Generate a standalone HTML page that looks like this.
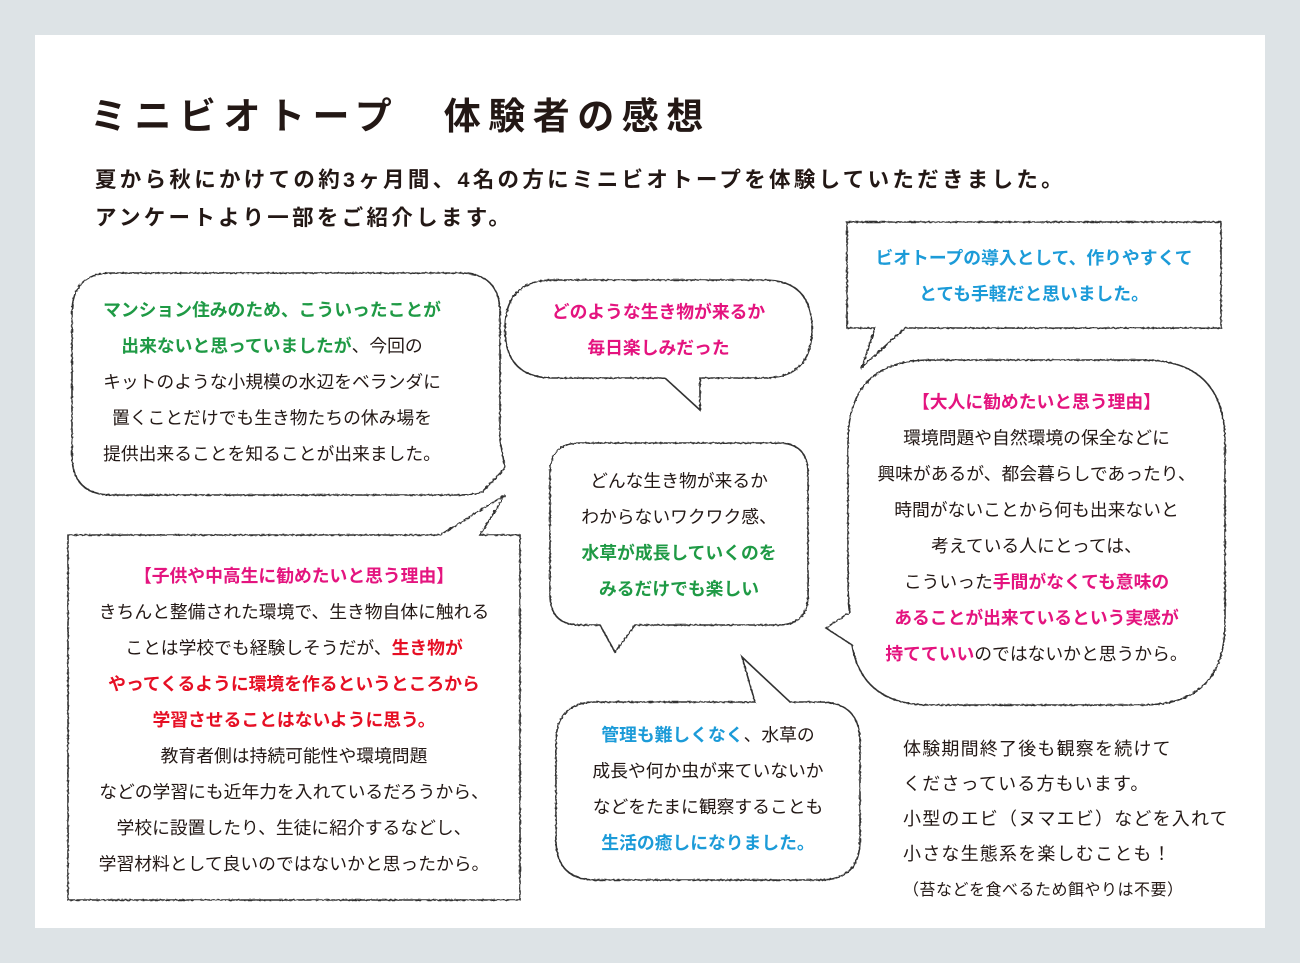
<!DOCTYPE html>
<html><head><meta charset="utf-8"><style>
body{margin:0;width:1300px;height:963px;background:#dde3e6;position:relative;overflow:hidden;font-family:"Liberation Sans","Noto Sans CJK JP",sans-serif;color:#231815}
.card{position:absolute;left:35px;top:35px;width:1230px;height:893px;background:#fff}
svg{position:absolute;left:0;top:0}
.t{position:absolute;text-align:center;font-size:17.8px;line-height:36px;white-space:nowrap}
.g{color:#1f9a45;font-weight:bold}.m{color:#e4147f;font-weight:bold}.b{color:#1c9bd8;font-weight:bold}.r{color:#e60f24;font-weight:bold}
h1{position:absolute;left:90px;top:86px;margin:0;font-size:37px;letter-spacing:7.5px;font-weight:bold}
.sub{position:absolute;left:95px;top:161px;font-size:21.5px;line-height:38px;font-weight:bold;letter-spacing:3.3px}
</style></head><body>
<div class="card"></div>
<svg width="1300" height="963">
<defs><filter id="w"><feTurbulence type="fractalNoise" baseFrequency="0.4" numOctaves="1" seed="3"/><feDisplacementMap in="SourceGraphic" scale="2.5"/></filter></defs>
<g fill="#fff" stroke="#333" stroke-width="1.6" stroke-linejoin="miter" filter="url(#w)">
<path d="M112,273 H460 Q500,273 500,313 V440 L505,468 L482,492 Q472,495 460,495 H112 Q72,495 72,455 V313 Q72,273 112,273 Z"/>
<path d="M68,535 H440 L505,495 L480,535 H520 V900 H68 Z"/>
<path d="M553,280 H764 Q812,280 812,329 Q812,378 764,378 H700 L700,410 L665,378 H553 Q505,378 505,329 Q505,280 553,280Z"/>
<path d="M580,443 H778 Q808,443 808,473 V595 Q808,625 778,625 H635 L615,652 L600,625 H580 Q550,625 550,595 V473 Q550,443 580,443Z"/>
<path d="M596,702 H755 L742,657 L790,702 H820 Q860,702 860,742 V840 Q860,880 820,880 H596 Q556,880 556,840 V742 Q556,702 596,702Z"/>
<path d="M847,222 H1221 V328 H905 L862,367 L875,328 H847Z"/>
<path d="M930,360 H1143 Q1225,360 1225,442 V623 Q1225,705 1143,705 H930 Q862,705 852,645 L826,628 L850,612 Q848,600 848,580 V442 Q848,360 930,360Z"/>
</g></svg>
<h1>ミニビオトープ　体験者の感想</h1>
<div class="sub">夏から秋にかけての約3ヶ月間、4名の方にミニビオトープを体験していただきました。<br>アンケートより一部をご紹介します。</div>

<div class="t" style="left:72px;width:400px;top:292px"><span class="g">マンション住みのため、こういったことが<br>出来ないと思っていましたが</span>、今回の<br>キットのような小規模の水辺をベランダに<br>置くことだけでも生き物たちの休み場を<br>提供出来ることを知ることが出来ました。</div>

<div class="t" style="left:68px;width:452px;top:558px"><span class="m">【子供や中高生に勧めたいと思う理由】</span><br>きちんと整備された環境で、生き物自体に触れる<br>ことは学校でも経験しそうだが、<span class="r">生き物が<br>やってくるように環境を作るというところから<br>学習させることはないように思う。</span><br>教育者側は持続可能性や環境問題<br>などの学習にも近年力を入れているだろうから、<br>学校に設置したり、生徒に紹介するなどし、<br>学習材料として良いのではないかと思ったから。</div>

<div class="t" style="left:505px;width:307px;top:294px"><span class="m">どのような生き物が来るか<br>毎日楽しみだった</span></div>

<div class="t" style="left:550px;width:258px;top:463px">どんな生き物が来るか<br>わからないワクワク感、<br><span class="g">水草が成長していくのを<br>みるだけでも楽しい</span></div>

<div class="t" style="left:556px;width:304px;top:717px"><span class="b">管理も難しくなく</span>、水草の<br>成長や何か虫が来ていないか<br>などをたまに観察することも<br><span class="b">生活の癒しになりました。</span></div>

<div class="t" style="left:847px;width:374px;top:240px"><span class="b">ビオトープの導入として、作りやすくて<br>とても手軽だと思いました。</span></div>

<div class="t" style="left:848px;width:377px;top:384px"><span class="m">【大人に勧めたいと思う理由】</span><br>環境問題や自然環境の保全などに<br>興味があるが、都会暮らしであったり、<br>時間がないことから何も出来ないと<br>考えている人にとっては、<br>こういった<span class="m">手間がなくても意味の<br>あることが出来ているという実感が<br>持てていい</span>のではないかと思うから。</div>

<div class="t" style="left:903px;top:732px;text-align:left;font-size:18px;line-height:35px;letter-spacing:1.2px">体験期間終了後も観察を続けて<br>くださっている方もいます。<br>小型のエビ（ヌマエビ）などを入れて<br>小さな生態系を楽しむことも！<br><span style="font-size:16px;letter-spacing:0.5px">（苔などを食べるため餌やりは不要）</span></div>
</body></html>
